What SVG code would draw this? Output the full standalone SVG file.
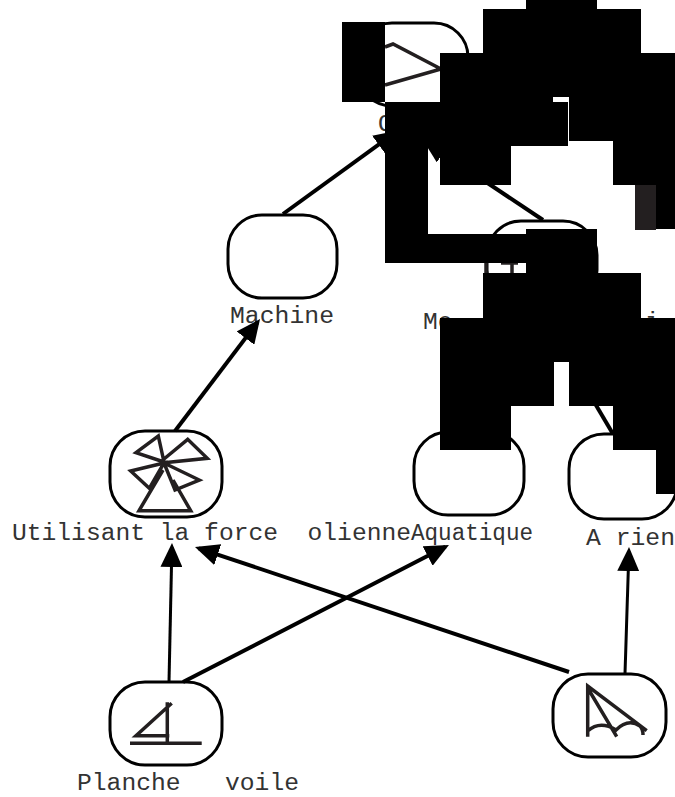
<svg xmlns="http://www.w3.org/2000/svg" width="675" height="797" viewBox="0 0 675 797">
<defs>
<marker id="ah" markerUnits="userSpaceOnUse" markerWidth="25" markerHeight="22" refX="20" refY="11" orient="auto"><path d="M0,0L24,11L0,22Z" fill="#000"/></marker>
</defs>
<style>
.n{fill:#fff;stroke:#000;stroke-width:3}
.i{fill:none;stroke:#231f20;stroke-width:3.5}
.t{font-family:"Liberation Mono",monospace;font-size:23px;fill:#333;white-space:pre}
.c{fill:none;stroke:#000;stroke-width:4}
.v{stroke-width:3}
.a{marker-end:url(#ah)}
.b{fill:#000}
</style>
<rect width="675" height="797" fill="#fff"/>
<g id="node-top"><rect class="n" x="358" y="23" width="110" height="83" rx="34"/><path class="i" d="M385,47L393,44L441,69L385,85"/><text class="t" x="378" y="131" textLength="14.7" lengthAdjust="spacingAndGlyphs">O</text></g>
<g id="node-machine"><rect class="n" x="228" y="215" width="109" height="83" rx="34"/><text class="t" x="230" y="323" textLength="104" lengthAdjust="spacingAndGlyphs">Machine</text></g>
<g id="node-moteur"><rect class="n" x="487" y="221" width="110" height="83" rx="34"/><path class="i" d="M486,263V273M501,263H518M512,263V273"/><text class="t" x="423" y="329" textLength="29.5" lengthAdjust="spacingAndGlyphs">Me</text><text class="t" x="645" y="329" textLength="14.7" lengthAdjust="spacingAndGlyphs">i</text></g>
<g id="node-eolienne"><rect class="n" x="110" y="431" width="112" height="86" rx="35"/><path class="i" d="M164,462L136,452.7L158.3,436ZM164,459L187.7,439.3L207.3,458.3L164,462.7M164,463L130.7,471L149.3,488.3ZM164,463L199.3,480L175,490ZM163,470L139,510.7H190.7L173,480"/><text class="t" x="12" y="540" textLength="399" lengthAdjust="spacingAndGlyphs">Utilisant la force  olienne</text></g>
<g id="node-aquatique"><rect class="n" x="414" y="432" width="110" height="83" rx="34"/><text class="t" x="411" y="540" textLength="122" lengthAdjust="spacingAndGlyphs">Aquatique</text></g>
<g id="node-rien"><rect class="n" x="569" y="434" width="108" height="85" rx="35"/><text class="t" x="586" y="545" textLength="89" lengthAdjust="spacingAndGlyphs">A rien</text></g>
<g id="node-planche"><rect class="n" x="110" y="682" width="112" height="83" rx="35"/><path class="i" d="M130,743.3H201.7M167.3,702.3V743M171.7,703.3L136,735.7H169.3"/><text class="t" x="77" y="790" textLength="222" lengthAdjust="spacingAndGlyphs">Planche   voile</text></g>
<g id="node-voile"><rect class="n" x="553" y="674" width="113" height="83" rx="35"/><path class="i" d="M587.7,736.7V686L646.7,730.7M587.7,688L616.7,736.7M587.7,731Q600,720 616,730Q628,718 640,726Q643,729 643,735"/></g>
<g id="connectors">
<path class="c a" d="M283,214L394.8,132.9"/>
<path class="c a" d="M175,431L257.6,322.2"/>
<path class="c v a" d="M169,682L171.9,547"/>
<path class="c a" d="M183,682L445.4,546.8"/>
<path class="c a" d="M569,672L198.8,548.3"/>
<path class="c v a" d="M625,674L628.9,551"/>
<path class="c a" d="M543,220L426.3,142.2"/>
<path class="c" d="M613,434L590,395"/>
</g>
<g id="blocks">
<rect class="b" x="342" y="22" width="43" height="80"/>
<rect class="b" x="526" y="0" width="71" height="9"/>
<rect class="b" x="483" y="9" width="158" height="44"/>
<path class="b" d="M440,53H675V185H613V141H569V97H553V102H568V146H511V185H440V146H428V234H526V229H597V273H641V318H675V494H656V450H613V406H569V362H554V406H511V450H440V318H483V273H526V263H385V102H440Z"/>
<rect x="635" y="185" width="21" height="45" fill="#231f20"/>
<rect class="b" x="656" y="185" width="19" height="44"/>
</g>
</svg>
